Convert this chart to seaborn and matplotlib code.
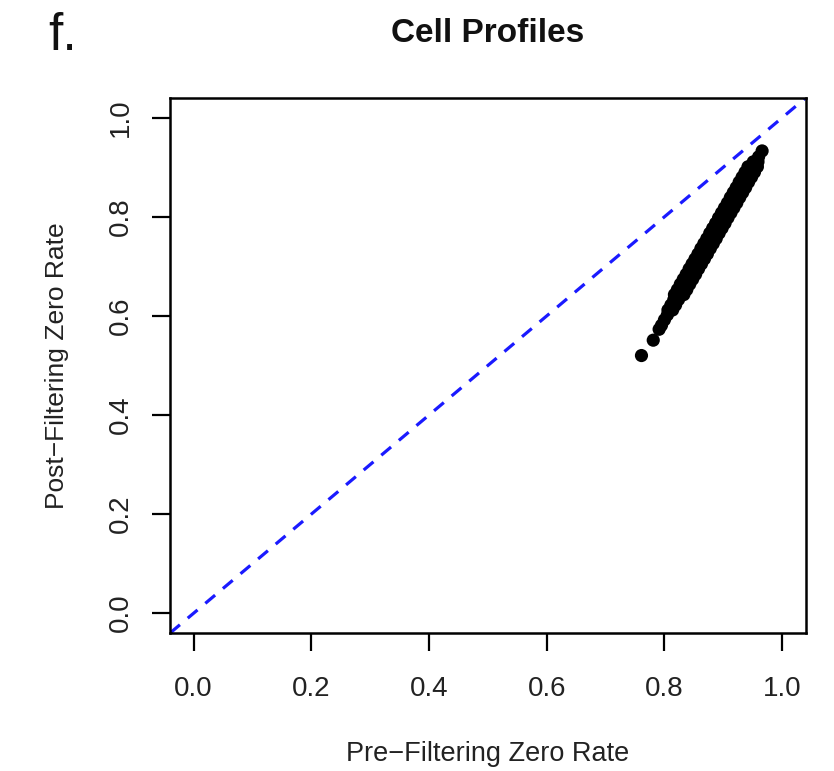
import matplotlib
matplotlib.use("Agg")
import matplotlib.pyplot as plt
import seaborn as sns
import pandas as pd

# Data (centre of the band plus its two edges)
pre_center = [0.761, 0.781, 0.791, 0.795, 0.800, 0.805, 0.810, 0.815, 0.820, 0.825,
              0.830, 0.835, 0.840, 0.845, 0.850, 0.855, 0.860, 0.865, 0.870, 0.875,
              0.880, 0.885, 0.890, 0.895, 0.900, 0.905, 0.910, 0.915, 0.920, 0.925,
              0.930, 0.935, 0.940, 0.945, 0.950, 0.955, 0.960, 0.966]
post_center = [0.520, 0.551, 0.573, 0.581, 0.592, 0.602, 0.612, 0.622, 0.633, 0.643,
               0.653, 0.664, 0.674, 0.684, 0.695, 0.705, 0.715, 0.725, 0.736, 0.746,
               0.756, 0.767, 0.777, 0.787, 0.798, 0.808, 0.818, 0.828, 0.839, 0.849,
               0.859, 0.870, 0.880, 0.890, 0.901, 0.911, 0.921, 0.933]
pre_upper = [0.806, 0.811, 0.816, 0.817, 0.822, 0.827, 0.832, 0.837, 0.842, 0.847,
             0.852, 0.857, 0.862, 0.867, 0.872, 0.877, 0.882, 0.887, 0.892, 0.897,
             0.902, 0.907, 0.912, 0.917, 0.922, 0.927, 0.932, 0.937, 0.942, 0.951]
pre_lower = [0.814, 0.819, 0.824, 0.833, 0.838, 0.843, 0.848, 0.853, 0.858, 0.863,
             0.868, 0.873, 0.878, 0.883, 0.888, 0.893, 0.898, 0.903, 0.908, 0.913,
             0.918, 0.923, 0.928, 0.933, 0.938, 0.943, 0.948, 0.953, 0.958, 0.959]
post_edges = [0.612, 0.622, 0.633, 0.643, 0.653, 0.664, 0.674, 0.684, 0.695, 0.705,
              0.715, 0.725, 0.736, 0.746, 0.756, 0.767, 0.777, 0.787, 0.798, 0.808,
              0.818, 0.828, 0.839, 0.849, 0.859, 0.870, 0.880, 0.890, 0.901, 0.911]
tick_values = [0.0, 0.2, 0.4, 0.6, 0.8, 1.0]
tick_labels = ["0.0", "0.2", "0.4", "0.6", "0.8", "1.0"]

df = pd.DataFrame({
    "pre": pre_center + pre_upper + pre_lower,
    "post": post_center + post_edges + post_edges,
})

sns.set_theme(style="white")
plt.rcParams["font.family"] = ["Liberation Sans", "DejaVu Sans"]

fig = plt.figure(figsize=(8.34, 7.71), dpi=100)
ax = fig.add_axes([0.204, 0.179, 0.762, 0.694])

sns.scatterplot(data=df, x="pre", y="post", color="black", s=90,
                edgecolor="none", linewidth=0, ax=ax, zorder=3)
ax.axline((0, 0), slope=1, color="#1a1aff", linestyle=(0, (4, 3.2)),
          linewidth=2.3, zorder=2)

ax.set_xlim(-0.04, 1.04)
ax.set_ylim(-0.04, 1.04)
ax.set_xticks(tick_values)
ax.set_xticklabels(tick_labels)
ax.set_yticks(tick_values)
ax.set_yticklabels(tick_labels, rotation=90, va="center")

ax.tick_params(axis="both", direction="out", length=13, width=1.6,
               labelsize=20, color="black", labelcolor="#222222",
               bottom=True, left=True)
ax.tick_params(axis="x", pad=18)
ax.tick_params(axis="y", pad=13)
for sp in ax.spines.values():
    sp.set_color("black")
    sp.set_linewidth(1.8)

ax.set_xlabel("Pre\u2212Filtering Zero Rate", fontsize=19.5, color="#222222", labelpad=28)
ax.set_ylabel("Post\u2212Filtering Zero Rate", fontsize=19, color="#222222", labelpad=28)

fig.text(0.585, 0.957, "Cell Profiles", fontsize=24, fontweight="bold",
         ha="center", va="center", color="#111111")
fig.text(0.058, 0.953, "f.", fontsize=37, ha="left", va="center", color="#111111")

fig.savefig("out.png", dpi=100)
